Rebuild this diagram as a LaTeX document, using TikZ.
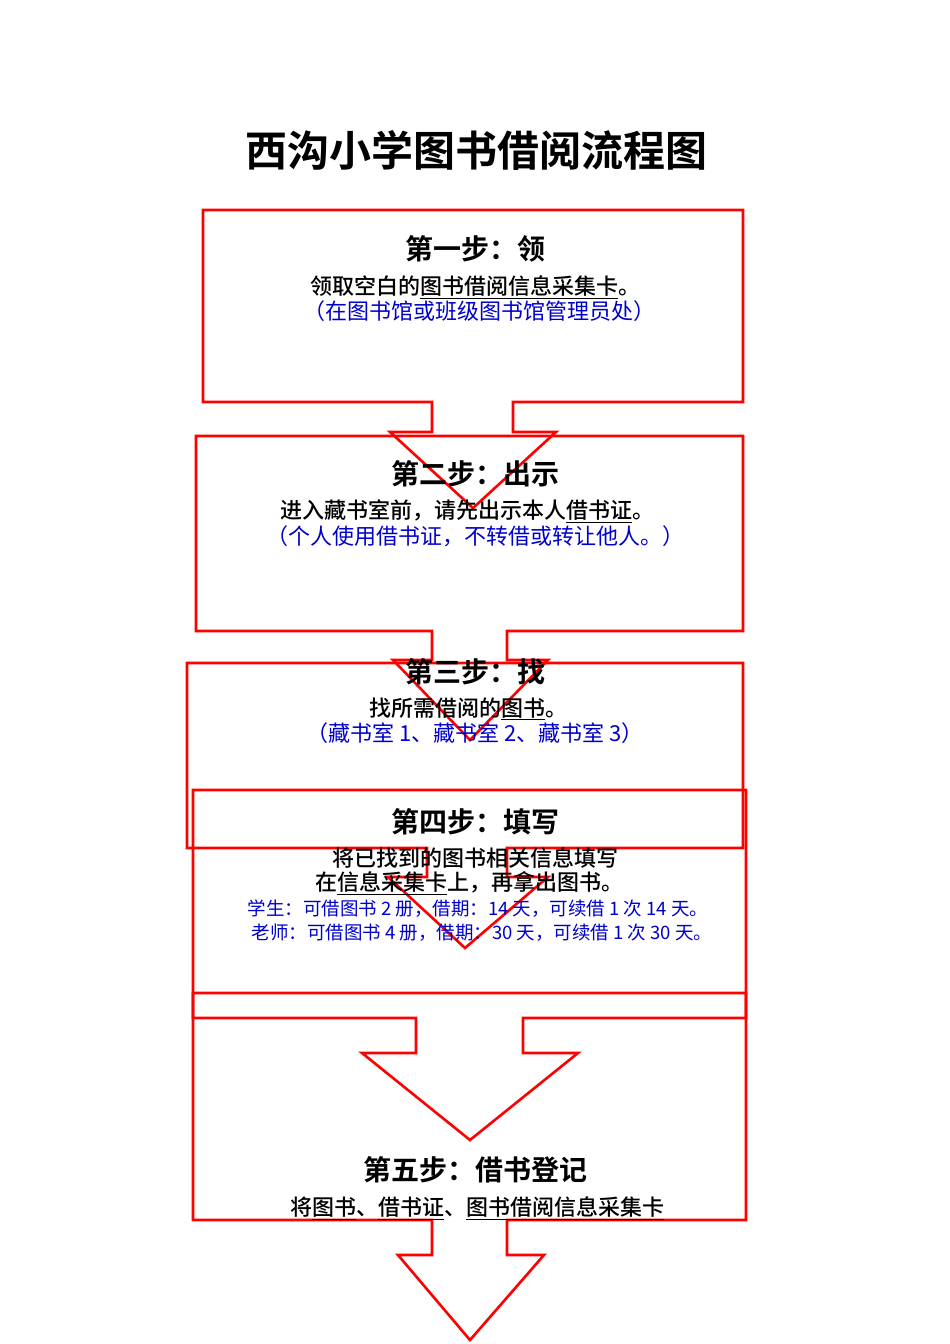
\documentclass[tikz,border=0pt]{standalone}
\usepackage{fontspec}
\setmainfont{Liberation Sans}
\newfontfamily\cjk{Noto Sans CJK SC}
\newfontfamily\cjkm{Noto Sans CJK SC Medium}
\newfontfamily\cjkb{Noto Sans CJK SC Bold}
\tikzset{
 callout/.style={draw=red, line width=2.6pt, line join=miter},
 head/.style={font=\cjkb\fontsize{28}{30}\selectfont, inner sep=0},
 body/.style={font=\cjkm\fontsize{22}{24}\selectfont, inner sep=0},
 note/.style={font=\cjk\fontsize{22}{24}\selectfont\color{blue!80!black}, inner sep=0},
 note2/.style={font=\cjk\fontsize{18.5}{20}\selectfont\color{blue!80!black}, inner sep=0},
}
\begin{document}
\begin{tikzpicture}[x=1pt,y=-1pt]
\useasboundingbox (0,0) rectangle (950,1344);
\node[font=\cjkb\fontsize{42}{46}\selectfont, inner sep=0] (title) at (476,150) {西沟小学图书借阅流程图};
% shape 1
\draw[callout] (203,210) -- (743,210) -- (743,402) -- (513,402) -- (513,432) -- (556,432) -- (473,508) -- (390,432) -- (432,432) -- (432,402) -- (203,402) -- cycle;
% shape 2
\draw[callout] (196,436) -- (743,436) -- (743,631) -- (507,631) -- (507,660) -- (548,660) -- (470,740) -- (393,660) -- (432,660) -- (432,631) -- (196,631) -- cycle;
% shape 3
\draw[callout] (187,663) -- (743,663) -- (743,848) -- (507,848) -- (507,877) -- (548,877) -- (465,948) -- (388,877) -- (427,877) -- (427,848) -- (187,848) -- cycle;
% shape 4
\draw[callout] (193,790) -- (746,790) -- (746,1018) -- (523,1018) -- (523,1053) -- (578,1053) -- (470,1140) -- (362,1053) -- (416,1053) -- (416,1018) -- (193,1018) -- cycle;
% shape 5
\draw[callout] (193,993) -- (746,993) -- (746,1220) -- (507,1220) -- (507,1255) -- (544,1255) -- (470,1340) -- (398,1255) -- (432,1255) -- (432,1220) -- (193,1220) -- cycle;
% texts
\node[head] (h1) at (475,249) {第一步：领};
\node[body] (b1) at (475,287) {领取空白的\underline{图书借阅信息采集卡}。};
\node[note] (n1) at (479,311) {（在图书馆或班级图书馆管理员处）};
\node[head] (h2) at (475,474) {第二步：出示};
\node[body] (b2) at (467,511) {进入藏书室前，请先出示本人\underline{借书证}。};
\node[note] (n2) at (475,536) {（个人使用借书证，不转借或转让他人。）};
\node[head] (h3) at (475,672) {第三步：找};
\node[body] (b3) at (468,709) {找所需借阅的\underline{图书}。};
\node[note] (n3) at (475,733) {（藏书室 1、藏书室 2、藏书室 3）};
\node[head] (h4) at (475,822) {第四步：填写};
\node[body] (b4) at (475,858) {将已找到的图书相关信息填写};
\node[body] (b4b) at (469,883) {在\underline{信息采集卡}上，再拿出图书。};
\node[note2] (n4) at (478,909) {学生：可借图书 2 册，借期：14 天，可续借 1 次 14 天。};
\node[note2] (n4b) at (482,933) {老师：可借图书 4 册，借期：30 天，可续借 1 次 30 天。};
\node[head] (h5) at (475,1170) {第五步：借书登记};
\node[body] (b5) at (477,1208) {将\underline{图书}、\underline{借书证}、\underline{图书借阅信息采集卡}};
\end{tikzpicture}
\end{document}
